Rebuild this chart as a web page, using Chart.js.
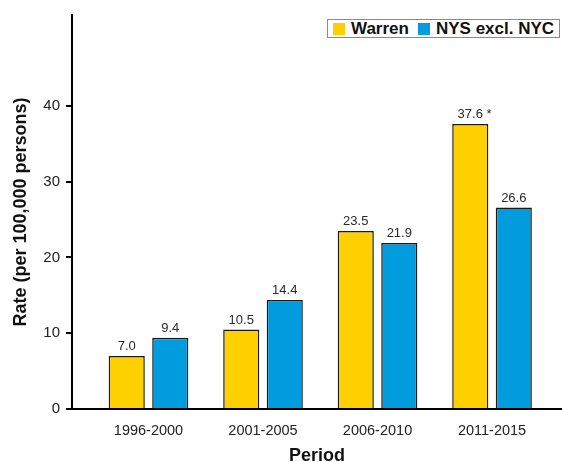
<!DOCTYPE html>
<html>
<head>
<meta charset="utf-8">
<script src="https://cdn.jsdelivr.net/npm/chart.js@4"></script>
<style>
  body { margin: 0; background: #fff; }
  #wrap { position: relative; width: 562px; height: 462px; }
  #legend {
    position: absolute; left: 327px; top: 19px; width: 231px; height: 17px;
    border: 1px solid #8a8a8a; background: #fff;
    font: bold 17px "Liberation Sans", Arial, sans-serif; color: #111;
    display: flex; align-items: center; white-space: nowrap;
  }
  #legend span.box { display: inline-block; width: 12px; height: 12px; margin: 0 6px 0 5px; }
</style>
</head>
<body>
<div id="wrap">
  <canvas id="chart" width="562" height="462"></canvas>
  <div id="legend"></div>
</div>
<script>
var periods = ['1996-2000', '2001-2005', '2006-2010', '2011-2015'];
var warren = [7.0, 10.5, 23.5, 37.6];
var nysExclNyc = [9.4, 14.4, 21.9, 26.6];
var warrenNotes = ['', '', '', ' *'];
var nysNotes = ['', '', '', ''];
var yTicks = [0, 10, 20, 30, 40];

var seriesNames = ['Warren', 'NYS excl. NYC'];
var seriesColors = ['#FFD000', '#009CDE'];

function points(values) {
    return values.map(function(v, i) { return {x: i, y: v}; });
}

// value labels above each bar
var barLabels = {
    id: 'barLabels',
    afterDatasetsDraw: function(chart) {
        var ctx = chart.ctx;
        var notes = [warrenNotes, nysNotes];
        ctx.save();
        ctx.font = '13px "Liberation Sans", Arial, sans-serif';
        ctx.fillStyle = '#2a2a2a';
        ctx.textAlign = 'center';
        ctx.textBaseline = 'bottom';
        chart.data.datasets.forEach(function(ds, di) {
            chart.getDatasetMeta(di).data.forEach(function(el, i) {
                var txt = ds.data[i].y.toFixed(1) + notes[di][i];
                var off = notes[di][i] ? ctx.measureText(notes[di][i]).width / 2 : 0;
                ctx.fillText(txt, el.x + off, el.y - 3);
            });
        });
        ctx.restore();
    }
};

var ctx = document.getElementById('chart').getContext('2d');
new Chart(ctx, {
    type: 'bar',
    data: {
        datasets: [{
            label: seriesNames[0],
            data: points(warren),
            backgroundColor: seriesColors[0],
            borderColor: '#1a1a1a',
            borderWidth: 1.5
        }, {
            label: seriesNames[1],
            data: points(nysExclNyc),
            backgroundColor: seriesColors[1],
            borderColor: '#1a1a1a',
            borderWidth: 1.5
        }]
    },
    plugins: [barLabels],
    options: {
        responsive: false,
        animation: false,
        categoryPercentage: 0.76,
        barPercentage: 0.83,
        layout: { padding: { top: 13, right: 0, left: 0, bottom: 0 } },
        plugins: {
            legend: { display: false },
            tooltip: { enabled: false }
        },
        scales: {
            x: {
                type: 'linear',
                offset: false,
                min: -0.668,
                max: 3.611,
                afterBuildTicks: function(scale) {
                    scale.ticks = periods.map(function(p, i) { return {value: i}; });
                },
                afterFit: function(scale) { scale.height = 53; },
                grid: { display: false, drawTicks: false },
                border: { color: '#000', width: 2 },
                ticks: {
                    padding: 13,
                    color: '#222',
                    font: { family: '"Liberation Sans", Arial, sans-serif', size: 14.5 }
                    , callback: function(value) { return periods[value]; }
                },
                title: {
                    display: true,
                    text: 'Period',
                    color: '#111',
                    padding: { top: 0, bottom: -3 },
                    font: { family: '"Liberation Sans", Arial, sans-serif', size: 18, weight: 'bold', lineHeight: 1 }
                }
            },
            y: {
                min: 0,
                max: 52,
                afterBuildTicks: function(scale) {
                    scale.ticks = yTicks.map(function(v) { return {value: v}; });
                },
                afterFit: function(scale) { scale.width = 72; },
                grid: { drawOnChartArea: false, color: '#000', lineWidth: 2, tickLength: 6 },
                border: { color: '#000', width: 2 },
                ticks: {
                    padding: 6,
                    color: '#222',
                    font: { family: '"Liberation Sans", Arial, sans-serif', size: 15 }
                },
                title: {
                    display: true,
                    text: 'Rate (per 100,000 persons)',
                    color: '#111',
                    padding: 10,
                    font: { family: '"Liberation Sans", Arial, sans-serif', size: 18, weight: 'bold', lineHeight: 1.2 }
                }
            }
        }
    }
});

// html legend
var legend = document.getElementById('legend');
seriesNames.forEach(function(name, i) {
    var b = document.createElement('span');
    b.className = 'box';
    b.style.background = seriesColors[i];
    if (i > 0) b.style.marginLeft = '9px';
    legend.appendChild(b);
    legend.appendChild(document.createTextNode(name));
});
</script>
</body>
</html>
